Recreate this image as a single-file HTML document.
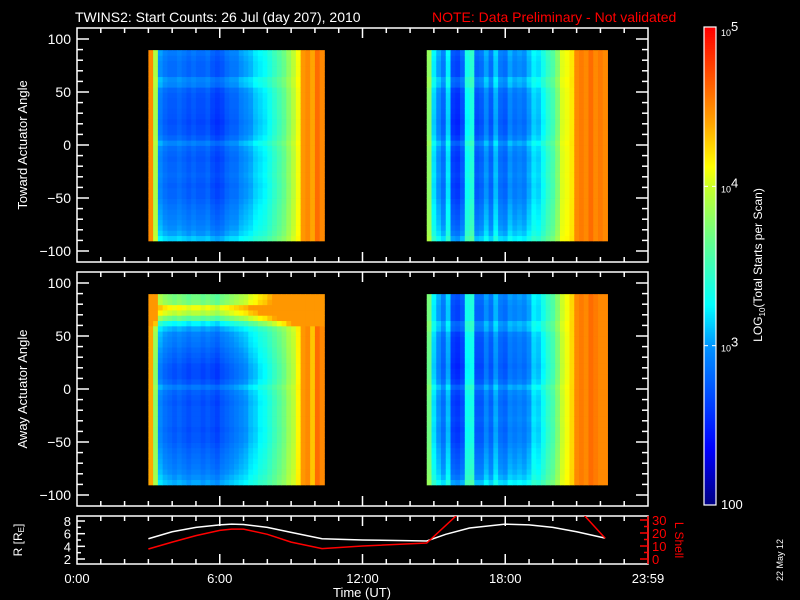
<!DOCTYPE html>
<html><head><meta charset="utf-8"><style>
body{margin:0;background:#000}
svg{display:block}
text{font-family:"Liberation Sans",sans-serif;fill:#fff}
</style></head><body>
<svg id="c" width="800" height="600" viewBox="0 0 800 600" xmlns="http://www.w3.org/2000/svg">
<rect width="800" height="600" fill="#000"/>
<text x="75" y="22" font-size="14">TWINS2: Start Counts: 26 Jul (day 207), 2010</text>
<text x="432" y="22" font-size="14" style="fill:#f00">NOTE: Data Preliminary - Not validated</text>
<text transform="translate(27,145) rotate(-90)" text-anchor="middle" font-size="13">Toward Actuator Angle</text>
<text transform="translate(27,389) rotate(-90)" text-anchor="middle" font-size="13">Away Actuator Angle</text>
<text transform="translate(22,540) rotate(-90)" text-anchor="middle" font-size="12">R [R<tspan font-size="8" dy="2">E</tspan><tspan dy="-2">]</tspan></text>
<text transform="translate(675,540) rotate(90)" text-anchor="middle" font-size="12" style="fill:#f00">L Shell</text>
<text x="362" y="597" text-anchor="middle" font-size="13">Time (UT)</text>
<text transform="translate(783,560) rotate(-90)" text-anchor="middle" font-size="9">22 May 12</text>
<text transform="translate(762,265) rotate(-90)" text-anchor="middle" font-size="12">LOG<tspan font-size="8" dy="3">10</tspan><tspan dy="-3">(Total Starts per Scan)</tspan></text>
<g id="g"></g>
</svg>
<script>
// ---- data ----
const block1Start = 3.0, block2Start = 14.7, colStep = 0.2;
const toward1 = [4.5,3.9,2.95,2.85,2.8,2.8,2.85,2.8,2.75,2.8,2.75,2.75,2.8,2.7,2.65,2.7,2.8,2.85,2.85,2.95,3.0,3.05,3.15,3.2,3.25,3.35,3.45,3.55,3.65,3.8,3.95,4.1,4.45,4.5,4.4,4.6,4.5];
const away1 = [4.4,3.8,2.95,2.85,2.8,2.75,2.8,2.75,2.7,2.75,2.75,2.7,2.75,2.7,2.65,2.75,2.8,2.85,2.9,2.95,3.0,3.1,3.15,3.25,3.3,3.4,3.5,3.6,3.7,3.85,3.95,4.15,4.45,4.5,4.3,4.6,4.5];
const toward2 = [3.8,3.2,3.0,2.85,3.2,2.65,2.6,2.75,3.3,3.4,2.75,2.8,3.0,2.8,3.1,2.85,2.8,3.0,2.9,2.95,2.9,3.05,3.2,3.15,3.3,3.45,3.55,3.75,4.05,4.1,4.2,4.5,4.55,4.5,4.6,4.5,4.55,4.5];
const away2 = [3.7,3.2,3.0,2.85,3.1,2.65,2.6,2.7,3.3,3.35,2.75,2.75,2.95,2.8,3.05,2.85,2.8,2.95,2.9,2.95,2.9,3.0,3.2,3.15,3.3,3.45,3.55,3.75,4.0,4.1,4.25,4.5,4.55,4.5,4.6,4.55,4.5,4.5];
const angleBins = [-88,-83,-78,-73,-68,-63,-58,-53,-48,-43,-38,-33,-28,-23,-18,-13,-8,-3,2,7,12,17,22,27,32,37,42,47,52,57,62,67,72,77,82,87];
const towardOffset = [0.3,0.2,0.15,0.12,0.1,0.08,0.06,0.03,0,0,-0.02,0,0.02,0,0,-0.02,0,0.03,0.12,0,-0.05,-0.06,-0.08,-0.06,-0.05,-0.04,-0.04,-0.03,0,0.12,0.15,0.03,0.03,0.03,0.05,0.08];
const awayOffset = [0.25,0.2,0.15,0.12,0.1,0.08,0.06,0.03,0,0,-0.02,0,0,0,0,-0.02,0,0.03,0.12,0,-0.05,-0.05,-0.04,0,0.03,0.06,0.1,0.12,0.15,0.25,0.5,0.9,1.2,1.35,1.0,0.95];
const rTimes = [3.0,4.0,5.0,6.0,6.5,7.0,8.0,9.0,10.3,12.0,14.7,15.5,16.5,18.0,19.0,20.0,21.0,22.2];
const rValues = [5.2,6.3,7.0,7.4,7.5,7.45,7.0,6.2,5.2,5.0,4.85,5.9,6.9,7.5,7.4,7.0,6.3,5.3];
const lTimes = [3.0,4.0,5.0,6.0,6.5,7.0,8.0,9.0,10.3,12.0,14.7,16.1,21.2,22.2];
const lValues = [7.7,13,18,22,23,23,19,13,8,10,12.3,36,36,16];
const colorTicks = ["100","10^3","10^4","10^5"];
// ---- helpers ----
const NS="http://www.w3.org/2000/svg", G=document.getElementById('g');
function mk(tag,attrs){const e=document.createElementNS(NS,tag);for(const k in attrs)e.setAttribute(k,attrs[k]);G.appendChild(e);return e;}
const X0=77,X1=648;
const xT=h=>X0+(X1-X0)*h/24;
const panels=[{top:28,bot:262},{top:272,bot:506}];
const yA=(p,a)=>panels[p].top+11+(100-a)*1.06;
const stops=[[0,0,0,128],[0.12,0,0,255],[0.33,0,144,255],[0.42,0,255,255],[0.55,96,255,144],[0.66,192,255,48],[0.71,255,255,0],[0.8,255,165,0],[0.9,255,80,0],[1,255,0,0]];
function cmap(v){let f=Math.max(0,Math.min(1,(v-2)/3));for(let i=1;i<stops.length;i++){if(f<=stops[i][0]){const a=stops[i-1],b=stops[i],t=(f-a[0])/(b[0]-a[0]);return `rgb(${Math.round(a[1]+t*(b[1]-a[1]))},${Math.round(a[2]+t*(b[2]-a[2]))},${Math.round(a[3]+t*(b[3]-a[3]))})`;}}return 'rgb(255,0,0)';}
// ---- spectrogram blocks ----
function block(p,start,levels,offs,band){
  for(let i=0;i<levels.length;i++){
    const x0=xT(start+i*colStep),x1=xT(start+(i+1)*colStep);
    for(let j=0;j<angleBins.length;j++){
      const a=angleBins[j];
      const yTop=yA(p,Math.min(90,a+2.5)),yB=yA(p,a-2.5);
      let v;
      if(band&&a>60){v=Math.min(4.45,Math.max(levels[i],levels[i]+offs[j]));}
      else{v=levels[i]+offs[j]*Math.max(0,4.3-levels[i])/1.3;}
      const r=mk('rect',{x:x0.toFixed(2),y:yTop.toFixed(2),width:(x1-x0+0.4).toFixed(2),height:(yB-yTop+0.4).toFixed(2),fill:cmap(v)});
      
      
    }
  }
}
block(0,block1Start,toward1,towardOffset,false);
block(0,block2Start,toward2,towardOffset,false);
block(1,block1Start,away1,awayOffset,true);
block(1,block2Start,away2,towardOffset,false);
// ---- frames / axes ----
function frame(top,bot,name){const r=mk('rect',{x:X0,y:top,width:X1-X0,height:bot-top,fill:'none',stroke:'#fff','stroke-width':1.5});}
function xticks(top,bot){for(let h=1;h<24;h++){const L=h%6===0?10:5,x=xT(h);mk('line',{x1:x,x2:x,y1:top,y2:top+L,stroke:'#fff','stroke-width':1.5});mk('line',{x1:x,x2:x,y1:bot,y2:bot-L,stroke:'#fff','stroke-width':1.5});}}
panels.forEach((pn,p)=>{
  frame(pn.top,pn.bot,p?'away-panel-frame':'toward-panel-frame');
  xticks(pn.top,pn.bot);
  for(let a=-100;a<=100;a+=10){const y=yA(p,a),L=a%50===0?12:6;
    mk('line',{x1:X0,x2:X0+L,y1:y,y2:y,stroke:'#fff','stroke-width':1.5});
    mk('line',{x1:X1,x2:X1-L,y1:y,y2:y,stroke:'#fff','stroke-width':1.5});
    if(a%50===0){const t=mk('text',{x:X0-6,y:y+5,'text-anchor':'end','font-size':14});t.textContent=a<0?'\u2212'+(-a):a;
      
      }
  }
});
// ---- bottom orbit panel ----
const BT=516,BB=564;
const yR=r=>559-(r-2)*6.33, yL=l=>559-l*1.3;
frame(BT,BB,'orbit-panel-frame');
xticks(BT,BB);
mk('line',{x1:X1,x2:X1,y1:BT,y2:BB,stroke:'#f00','stroke-width':1.5});
for(let r=2;r<=8;r++){const y=yR(r),L=r%2===0?8:4;mk('line',{x1:X0,x2:X0+L,y1:y,y2:y,stroke:'#fff','stroke-width':1.5});
  if(r%2===0){const t=mk('text',{x:X0-6,y:y+5,'text-anchor':'end','font-size':13});t.textContent=r;
    
    }}
for(let l=0;l<=30;l+=5){const y=yL(l),L=l%10===0?8:4;mk('line',{x1:X1,x2:X1-L,y1:y,y2:y,stroke:'#f00','stroke-width':1.5});
  if(l%10===0){const t=mk('text',{x:X1+4,y:y+5,'font-size':13,style:'fill:#f00'});t.textContent=l;
    
    }}
const cp=mk('clipPath',{id:'bc'});const cr=document.createElementNS(NS,'rect');cr.setAttribute('x',X0);cr.setAttribute('y',BT);cr.setAttribute('width',X1-X0);cr.setAttribute('height',BB-BT);cp.appendChild(cr);
const rp=mk('polyline',{points:rTimes.map((t,i)=>xT(t)+','+yR(rValues[i])).join(' '),fill:'none',stroke:'#fff','stroke-width':1.5,'clip-path':'url(#bc)'});


const lp=mk('polyline',{points:lTimes.map((t,i)=>xT(t)+','+yL(lValues[i])).join(' '),fill:'none',stroke:'#f00','stroke-width':1.5,'clip-path':'url(#bc)'});


[['0:00',0],['6:00',6],['12:00',12],['18:00',18],['23:59',24]].forEach(([s,h])=>{const t=mk('text',{x:xT(h),y:583,'text-anchor':'middle','font-size':13});t.textContent=s;
  
  });
// ---- colorbar ----
const CT=27,CB=505;
for(let i=0;i<240;i++){const v=5-3*i/240;mk('rect',{x:704,y:CT+i*(CB-CT)/240,width:12,height:(CB-CT)/240+0.5,fill:cmap(v)});}
const cbf=mk('rect',{x:704,y:CT,width:12,height:CB-CT,fill:'none',stroke:'#fff','stroke-width':1.2});


colorTicks.forEach((s,i)=>{const y=CB-i*(CB-CT)/3;
  if(i===1||i===2){mk('line',{x1:704,x2:708,y1:y,y2:y,stroke:'#fff'});mk('line',{x1:712,x2:716,y1:y,y2:y,stroke:'#fff'});}
  const t=mk('text',{x:721,y:i===3?y+9:(i===0?y+4:y+6),'font-size':i===0?13:9});
  if(s.indexOf('^')>0){const p=s.split('^');t.textContent=p[0];const sp=document.createElementNS(NS,'tspan');sp.setAttribute('dy','-5');sp.setAttribute('font-size','13');sp.textContent=p[1];t.appendChild(sp);}else t.textContent=s;
  
  
});
</script>
</body></html>
